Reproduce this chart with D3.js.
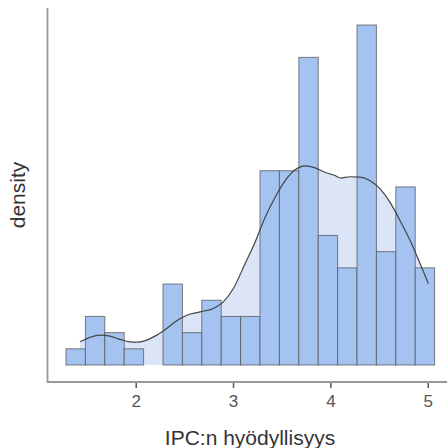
<!DOCTYPE html>
<html>
<head>
<meta charset="utf-8">
<script src="https://cdn.jsdelivr.net/npm/d3@7"></script>
<style>
  body { margin: 0; background: #fff; }
  svg { font-family: "Liberation Sans", Arial, sans-serif; }
</style>
</head>
<body>
<div id="chart"></div>
<script>
// histogram bins (counts), first bin edge and bin width
var counts = [1, 3, 2, 1, 0, 5, 2, 4, 3, 3, 12, 12, 19, 8, 6, 21, 7, 11, 6];
var binStart = 1.284;
var binWidth = 0.1993;

// density curve
var kdeX = [1.428, 1.530, 1.633, 1.736, 1.839, 1.941, 2.027, 2.113, 2.216, 2.319, 2.421, 2.524,
            2.661, 2.798, 2.900, 3.003, 3.123, 3.226, 3.329, 3.431, 3.534, 3.637, 3.740, 3.843,
            3.945, 4.048, 4.099, 4.202, 4.305, 4.408, 4.511, 4.613, 4.716, 4.819, 4.922, 5.007];
var kdeY = [0.0571, 0.0679, 0.0735, 0.0711, 0.0630, 0.0571, 0.0564, 0.0613, 0.0735, 0.0900, 0.1086, 0.1225,
            0.1306, 0.1390, 0.1551, 0.188, 0.249, 0.302, 0.363, 0.412, 0.453, 0.480, 0.490, 0.485,
            0.474, 0.466, 0.460, 0.463, 0.462, 0.453, 0.433, 0.400, 0.355, 0.306, 0.249, 0.200];

var xTicks = [2, 3, 4, 5];

var svgWidth = 448;
var svgHeight = 448;

var n = d3.sum(counts);
var bins = counts.map(function(c, i) {
  return {
    x0: binStart + i * binWidth,
    x1: binStart + (i + 1) * binWidth,
    density: c / (n * binWidth)
  };
});

var svg = d3.select("#chart")
  .append("svg")
  .attr("width", svgWidth)
  .attr("height", svgHeight);

var x = d3.scaleLinear()
  .domain([1.094, 5.126])
  .range([47.5, 440]);

var y = d3.scaleLinear()
  .domain([0, d3.max(bins, d => d.density)])
  .range([365, 25]);

var kde = kdeX.map((v, i) => [v, kdeY[i]]);

// light fill under the density curve
svg.append("path")
  .datum(kde)
  .attr("fill", "#dbe5f7")
  .attr("d", d3.area()
    .x(d => x(d[0]))
    .y0(y(0))
    .y1(d => y(d[1]))
    .curve(d3.curveMonotoneX));

// bars
svg.selectAll("rect.bar")
  .data(bins.filter(b => b.density > 0))
  .enter()
  .append("rect")
  .attr("class", "bar")
  .attr("x", d => x(d.x0))
  .attr("y", d => y(d.density))
  .attr("width", d => x(d.x1) - x(d.x0))
  .attr("height", d => y(0) - y(d.density))
  .attr("fill", "#a4c3f1")
  .attr("stroke", "#555")
  .attr("stroke-opacity", 0.75)
  .attr("stroke-width", 1);

// density line
svg.append("path")
  .datum(kde)
  .attr("fill", "none")
  .attr("stroke", "#444")
  .attr("stroke-width", 1.2)
  .attr("d", d3.line()
    .x(d => x(d[0]))
    .y(d => y(d[1]))
    .curve(d3.curveMonotoneX));

// axes
var axisColor = "#999";
svg.append("line")
  .attr("x1", 47.5).attr("x2", 47.5)
  .attr("y1", 8).attr("y2", 382)
  .attr("stroke", axisColor)
  .attr("stroke-width", 1.8);

var bottomAxis = d3.axisBottom(x)
  .tickValues(xTicks)
  .tickSize(6)
  .tickPadding(7)
  .tickFormat(d3.format("d"));

var gx = svg.append("g")
  .attr("transform", "translate(0, 382)")
  .call(bottomAxis);

gx.select(".domain").remove();
svg.append("line")
  .attr("x1", 46.6).attr("x2", 447)
  .attr("y1", 382).attr("y2", 382)
  .attr("stroke", axisColor)
  .attr("stroke-width", 1.8);

gx.selectAll(".tick line")
  .attr("stroke", "#555")
  .attr("stroke-width", 1.5);
gx.selectAll(".tick text")
  .attr("fill", "#555")
  .attr("font-size", 17)
  .attr("font-family", "Liberation Sans, Arial, sans-serif");

svg.append("text")
  .attr("x", 250)
  .attr("y", 445)
  .attr("text-anchor", "middle")
  .attr("fill", "#333")
  .attr("font-size", 21)
  .text("IPC:n hyödyllisyys");

svg.append("text")
  .attr("transform", "translate(25, 195) rotate(-90)")
  .attr("text-anchor", "middle")
  .attr("fill", "#333")
  .attr("font-size", 21)
  .text("density");
</script>
</body>
</html>
